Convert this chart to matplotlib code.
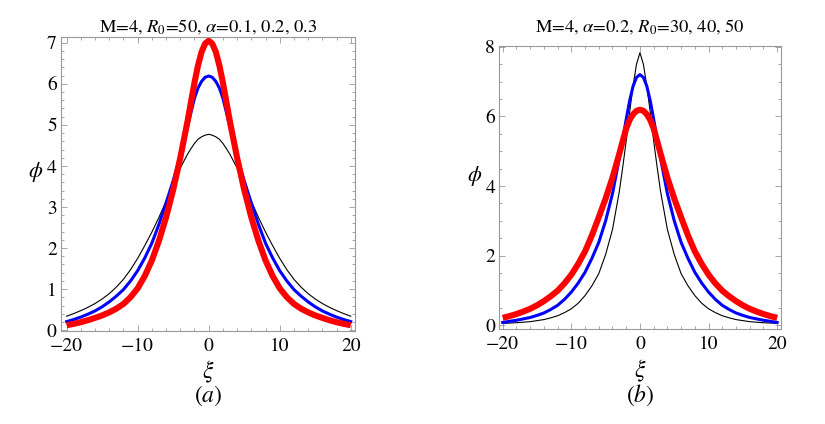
import matplotlib
matplotlib.use("Agg")
import matplotlib.pyplot as plt
from matplotlib.ticker import MultipleLocator

plt.rcParams['font.family'] = ['STIXGeneral', 'DejaVu Serif']
plt.rcParams['mathtext.fontset'] = 'stix'

# xi grid (symmetric about 0)
xi = [-20, -19, -18, -17, -16, -15, -14, -13, -12, -11, -10, -9, -8, -7, -6, -5, -4, -3, -2.5, -2, -1.5, -1, -0.5, 0,
      0.5, 1, 1.5, 2, 2.5, 3, 4, 5, 6, 7, 8, 9, 10, 11, 12, 13, 14, 15, 16, 17, 18, 19, 20]

# panel (a): M=4, R0=50, alpha = 0.1 (black), 0.2 (blue), 0.3 (red)
phi_a_01 = [0.34, 0.405, 0.477, 0.557, 0.65, 0.76, 0.89, 1.05, 1.24, 1.475, 1.75, 2.06, 2.39, 2.75, 3.14,
            3.56, 3.95, 4.28, 4.42, 4.55, 4.65, 4.71, 4.75, 4.77,
            4.75, 4.71, 4.65, 4.55, 4.42, 4.28, 3.95, 3.56,
            3.14, 2.75, 2.39, 2.06, 1.75, 1.475, 1.24, 1.05, 0.89, 0.76, 0.65, 0.557, 0.477, 0.405, 0.34]
phi_a_02 = [0.21, 0.26, 0.32, 0.39, 0.47, 0.57, 0.69, 0.83, 0.99, 1.20, 1.45, 1.76, 2.12, 2.58, 3.10,
            3.64, 4.24, 4.93, 5.30, 5.65, 5.90, 6.06, 6.16, 6.19,
            6.16, 6.06, 5.90, 5.65, 5.30, 4.93, 4.24, 3.64,
            3.10, 2.58, 2.12, 1.76, 1.45, 1.20, 0.99, 0.83, 0.69, 0.57, 0.47, 0.39, 0.32, 0.26, 0.21]
phi_a_03 = [0.12, 0.155, 0.195, 0.243, 0.30, 0.36, 0.435, 0.525, 0.64, 0.805, 1.02, 1.32, 1.70, 2.18, 2.75,
            3.42, 4.20, 5.07, 5.55, 6.03, 6.45, 6.78, 6.98, 7.05,
            6.98, 6.78, 6.45, 6.03, 5.55, 5.07, 4.20, 3.42,
            2.75, 2.18, 1.70, 1.32, 1.02, 0.805, 0.64, 0.525, 0.435, 0.36, 0.30, 0.243, 0.195, 0.155, 0.12]

# panel (b): M=4, alpha=0.2, R0 = 30 (black), 40 (blue), 50 (red)
phi_b_30 = [0.05, 0.06, 0.07, 0.085, 0.10, 0.13, 0.16, 0.21, 0.27, 0.36, 0.47, 0.63, 0.85, 1.13, 1.48,
            2.03, 2.75, 3.85, 4.55, 5.30, 6.12, 6.88, 7.50, 7.83,
            7.50, 6.88, 6.12, 5.30, 4.55, 3.85, 2.75, 2.03,
            1.48, 1.13, 0.85, 0.63, 0.47, 0.36, 0.27, 0.21, 0.16, 0.13, 0.10, 0.085, 0.07, 0.06, 0.05]
phi_b_40 = [0.08, 0.11, 0.14, 0.18, 0.22, 0.28, 0.35, 0.45, 0.57, 0.74, 0.95, 1.21, 1.52, 1.92, 2.38,
            3.00, 3.78, 4.80, 5.35, 5.92, 6.45, 6.87, 7.12, 7.20,
            7.12, 6.87, 6.45, 5.92, 5.35, 4.80, 3.78, 3.00,
            2.38, 1.92, 1.52, 1.21, 0.95, 0.74, 0.57, 0.45, 0.35, 0.28, 0.22, 0.18, 0.14, 0.11, 0.08]
phi_b_50 = phi_a_02  # same parameters as the blue curve of (a)

fig = plt.figure(figsize=(8.25, 4.24), dpi=100)
ax1 = fig.add_axes([0.0739, 0.2193, 0.3564, 0.6934])
ax2 = fig.add_axes([0.6052, 0.2233, 0.3418, 0.668])

frame_col = '#999999'


def style(ax, ymaj, ymin):
    ax.xaxis.set_major_locator(MultipleLocator(10))
    ax.xaxis.set_minor_locator(MultipleLocator(2))
    ax.yaxis.set_major_locator(MultipleLocator(ymaj))
    ax.yaxis.set_minor_locator(MultipleLocator(ymin))
    ax.tick_params(which='both', direction='in', top=True, right=True,
                   color=frame_col, width=0.6, labelsize=14)
    ax.tick_params(axis='y', pad=3)
    ax.tick_params(axis='x', pad=5)
    ax.tick_params(which='major', length=4)
    ax.tick_params(which='minor', length=2.2)
    for s in ax.spines.values():
        s.set_color(frame_col)
        s.set_linewidth(0.8)


# (a)
ax1.plot(xi, phi_a_01, color='black', lw=0.8)
ax1.plot(xi, phi_a_02, color='#0000ff', lw=2.2)
ax1.plot(xi, phi_a_03, color='#ff0000', lw=4.4, solid_capstyle='butt')
ax1.set_xlim(-20.8, 20.6)
ax1.set_ylim(-0.02, 7.14)
style(ax1, 1, 0.2)
ax1.text(0.5, 1.018, r'M=4, $R_0$=50, $\alpha$=0.1, 0.2, 0.3', transform=ax1.transAxes,
         ha='center', va='baseline', fontsize=13.3)
ax1.set_ylabel(r'$\phi$', fontsize=16, rotation=0, labelpad=8)
ax1.set_xlabel(r'$\xi$', fontsize=17, labelpad=3)
ax1.text(0.5, -0.22, r'$(a)$', transform=ax1.transAxes, ha='center', va='center', fontsize=17)

# (b)
ax2.plot(xi, phi_b_30, color='black', lw=0.8)
ax2.plot(xi, phi_b_40, color='#0000ff', lw=2.2)
ax2.plot(xi, phi_b_50, color='#ff0000', lw=4.4, solid_capstyle='butt')
ax2.set_xlim(-20.5, 20.6)
ax2.set_ylim(-0.12, 8.02)
style(ax2, 2, 0.5)
ax2.text(0.5, 1.05, r'M=4, $\alpha$=0.2, $R_0$=30, 40, 50', transform=ax2.transAxes,
         ha='center', va='baseline', fontsize=13.3)
ax2.set_ylabel(r'$\phi$', fontsize=16, rotation=0, labelpad=8)
ax2.set_xlabel(r'$\xi$', fontsize=17, labelpad=3)
ax2.text(0.5, -0.233, r'$(b)$', transform=ax2.transAxes, ha='center', va='center', fontsize=17)

fig.savefig('out.png', dpi=100)
